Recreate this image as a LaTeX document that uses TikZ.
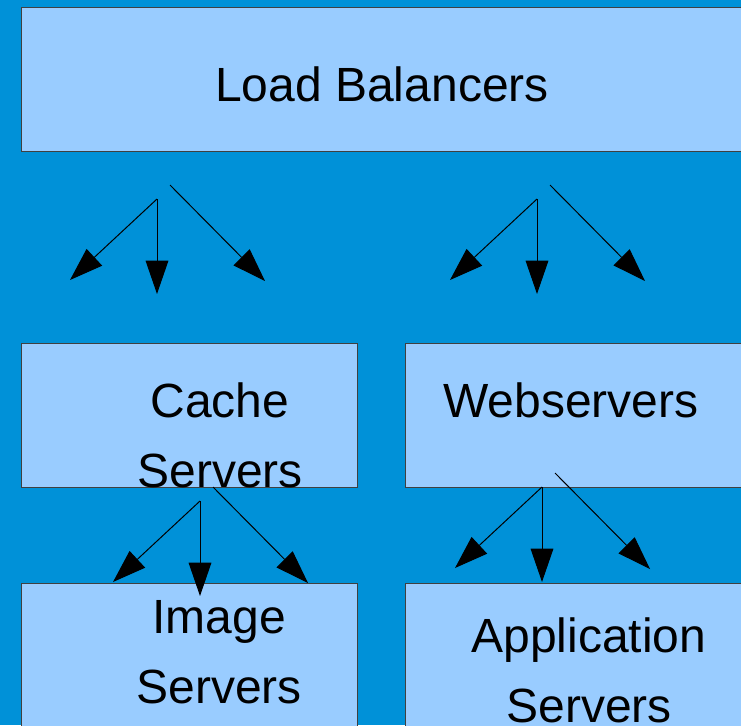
\documentclass[tikz,border=0pt]{standalone}
\usepackage{fontspec}
\setmainfont{Liberation Sans}
\usetikzlibrary{arrows.meta}
\definecolor{backblue}{RGB}{0,145,216}
\definecolor{boxblue}{RGB}{153,204,255}

\begin{document}
\begin{tikzpicture}[x=0.75pt,y=-0.75pt]
   \fill[backblue] (0,0) rectangle (741,725);
   \useasboundingbox (0,0) rectangle (741,725);
   \clip (0,0) rectangle (741,725);
   \tikzstyle{box}=[rectangle, draw=black!75, line width=0.75pt, fill=boxblue, anchor=north west, inner sep=0pt]
   \tikzstyle{boxtext}=[font=\fontsize{36}{52.5}\selectfont, align=center, inner sep=0pt]
   \tikzstyle{fan}=[line width=0.75pt, -{Triangle[length=25pt,width=17pt]}]
   % boxes
   \node[box, minimum width=555pt, minimum height=108pt] (balancers) at (21,7) {};
   \node[box, minimum width=252pt, minimum height=108pt] (cache) at (21,343) {};
   \node[box, minimum width=270pt, minimum height=108pt] (web) at (405,343) {};
   \node[box, minimum width=252pt, minimum height=120pt] (image) at (21,583) {};
   \node[box, minimum width=270pt, minimum height=120pt] (app) at (405,583) {};
   \node[boxtext] (balancerstext) at (382,84) {Load Balancers};
   \node[boxtext] (cachetext) at (220,435) {Cache\\Servers};
   \node[boxtext] (webtext) at (571,400) {Webservers};
   \node[boxtext] (imagetext) at (219,652) {Image\\Servers};
   \node[boxtext] (apptext) at (589,670) {Application\\Servers};
   % arrow fans
   \foreach \i/\x/\y in {1/157/199, 2/537/199, 3/200/501, 4/542/487} {
       \coordinate (from\i) at (\x,\y);
       \coordinate (left\i) at (\x-87,\y+81);
       \coordinate (down\i) at (\x,\y+95);
       \coordinate (side\i) at (\x+13,\y-14);
       \coordinate (right\i) at (\x+108,\y+82);
       \draw[fan] (from\i) -- (left\i);
       \draw[fan] (from\i) -- (down\i);
       \draw[fan] (side\i) -- (right\i);
   }
\end{tikzpicture}
\end{document}
